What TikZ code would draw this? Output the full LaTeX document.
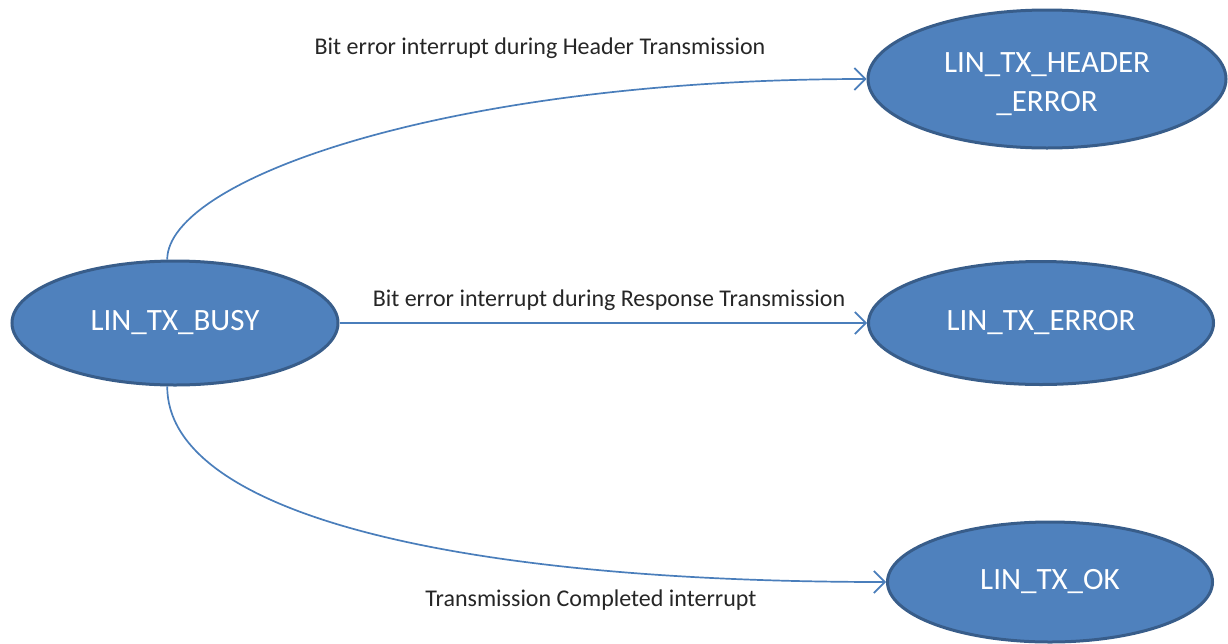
\documentclass[tikz,border=0pt]{standalone}
\usepackage{fontspec}
\setmainfont{Carlito}
\usetikzlibrary{arrows.meta,shapes.geometric}
\definecolor{stfill}{HTML}{4F81BD}
\definecolor{stline}{HTML}{385D8A}
\definecolor{conncol}{HTML}{4A7EBB}
\definecolor{lbltext}{HTML}{262626}
\tikzset{
  state/.style={ellipse, draw=stline, fill=stfill, line width=3pt, inner sep=0pt,
    text=white, font=\fontsize{31}{39}\selectfont, align=center},
  conn/.style={draw=conncol, line width=1.7pt,
    -{Straight Barb[length=11pt,width=22pt,line width=1.7pt]}},
  lbl/.style={text=lbltext, font=\fontsize{24}{28}\selectfont, inner sep=0pt}
}
\begin{document}
\begin{tikzpicture}[x=1pt,y=-1pt]
  \useasboundingbox (0,0) rectangle (1228,643);
  % states
  \node[state, minimum width=326pt, minimum height=124pt] (busy) at (175,323) {LIN\_TX\_BUSY};
  \node[state, minimum width=358pt, minimum height=138pt, text height=70pt] (header) at (1047,79) {LIN\_TX\_HEADER\\\_ERROR};
  \node[state, minimum width=345pt, minimum height=123pt] (error) at (1041,323) {LIN\_TX\_ERROR};
  \node[state, minimum width=325pt, minimum height=120pt] (ok) at (1050,582) {LIN\_TX\_OK};
  % transition labels
  \node[lbl] (lheader) at (540,48) {Bit error interrupt during Header Transmission};
  \node[lbl] (lerror) at (609,300) {Bit error interrupt during Response Transmission};
  \node[lbl] (lok) at (591,600) {Transmission Completed interrupt};
  % transitions
  \draw[conn] (busy.97) .. controls +(0,-80) and +(-420,0) .. (header.west);
  \draw[conn] (busy.east) -- (error.west);
  \draw[conn] (busy.263) .. controls +(0,125) and +(-440,0) .. (ok.west);
\end{tikzpicture}
\end{document}
